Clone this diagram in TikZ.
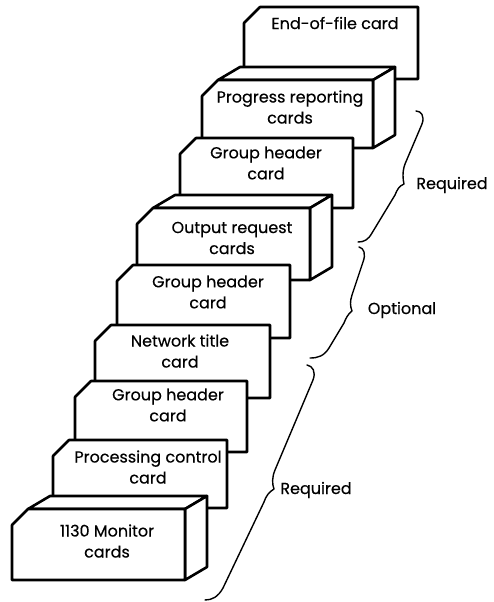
\documentclass[tikz,border=0pt]{standalone}
\usepackage{fontspec}
\setmainfont{Poppins}
\newfontfamily\cardfont{Poppins}[FakeBold=0.4]
\begin{document}
\begin{tikzpicture}[x=1pt,y=-1pt,
  card/.style={draw, line width=2.6pt, fill=white, line join=round},
  bracepath/.style={draw, line width=1.4pt, line cap=round, line join=round},
  cardtext/.style={align=center, inner sep=0pt, font=\cardfont\fontsize{16}{21}\selectfont},
  bracetext/.style={inner sep=0pt, font=\cardfont\fontsize{16}{21}\selectfont}]
\useasboundingbox (0,0) rectangle (493,602);
% flat card with a clipped top-left corner: left, top, right, bottom
\newcommand\flatcard[4]{%
  \draw[card] (#1,#2+16) -- (#1+16,#2) -- (#3,#2) -- (#3,#4) -- (#1,#4) -- cycle;}
% deck of cards drawn as a block with top and right faces
\newcommand\blockcard[4]{%
  \draw[card] (#1+16,#2) -- (#1+38,#2-13) -- (#3+22,#2-13) -- (#3,#2) -- cycle;
  \draw[card] (#3,#2) -- (#3+22,#2-13) -- (#3+22,#4-13) -- (#3,#4) -- cycle;
  \draw[card] (#1,#2+16) -- (#1+16,#2) -- (#3,#2) -- (#3,#4) -- (#1,#4) -- cycle;}

% the deck, from the back card to the front one
\flatcard{244}{7}{418}{79}
\node[cardtext] (eof) at (335,23) {End-of-file card};

\blockcard{202}{80}{373}{148}
\node[cardtext] (progress) at (290,107) {Progress reporting\\cards};

\flatcard{180}{138}{353}{208}
\node[cardtext] (grpA) at (266,163) {Group header\\card};

\blockcard{137}{208}{310}{280}
\node[cardtext] (output) at (232,238) {Output request\\cards};

\flatcard{117}{265}{290}{338}
\node[cardtext] (grpB) at (208,292) {Group header\\card};

\flatcard{95}{325}{270}{398}
\node[cardtext] (network) at (180,351) {Network title\\card};

\flatcard{75}{381}{247}{452}
\node[cardtext] (grpC) at (168,405) {Group header\\card};

\flatcard{53}{440}{227}{508}
\node[cardtext] (procctl) at (148,467) {Processing control\\card};

\blockcard{12}{509}{185}{580}
\node[cardtext] (monitor) at (107,541) {1130 Monitor\\cards};

% braces grouping the cards
\path[bracepath] (416,111) .. controls (421,111) and (425,116) .. (422,124)
  -- (405,164) .. controls (402,172) and (403,180) .. (404,184)
  .. controls (399,186) and (397,190) .. (395,195)
  -- (372,233) .. controls (368,240) and (364,242) .. (358,242);
\node[bracetext] (reqtop) at (452,185) {Required};

\path[bracepath] (359,247) .. controls (364,248) and (366,254) .. (363,262)
  -- (352,295) .. controls (350,301) and (350,306) .. (352,311)
  .. controls (348,314) and (346,318) .. (344,323)
  -- (329,348) .. controls (324,356) and (318,358) .. (310,358);
\node[bracetext] (optional) at (402,310) {Optional};

\path[bracepath] (307,365) .. controls (313,366) and (316,372) .. (313,380)
  -- (275,470) .. controls (272,477) and (272,484) .. (274,489)
  .. controls (269,492) and (266,496) .. (264,502)
  -- (223,588) .. controls (218,597) and (212,600) .. (205,600);
\node[bracetext] (reqbot) at (316,490) {Required};
\end{tikzpicture}
\end{document}
